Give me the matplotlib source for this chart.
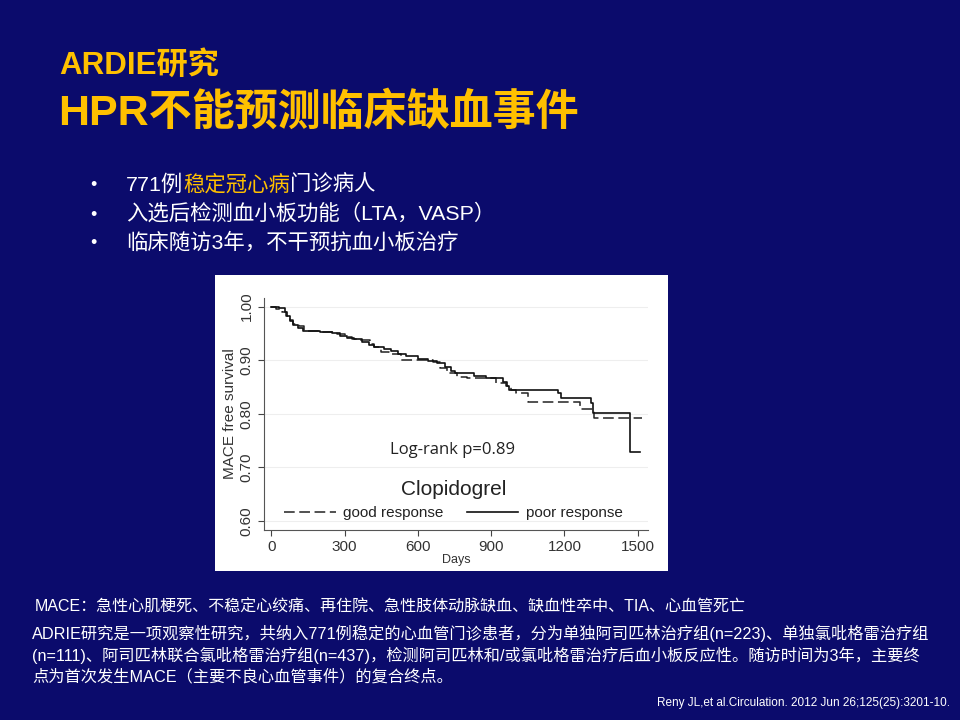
import matplotlib
matplotlib.use("Agg")
import matplotlib.pyplot as plt
from matplotlib.patches import Rectangle

plt.rcParams['font.family'] = ['Liberation Sans', 'Noto Sans CJK SC', 'DejaVu Sans']

BG = '#0b0b6c'
GOLD = '#ffc000'

# ---- slide text ----
title_small = 'ARDIE研究'
title_big = 'HPR不能预测临床缺血事件'
bullets = [
    [('771例', 'white'), ('稳定冠心病', GOLD), ('门诊病人', 'white')],
    [('入选后检测血小板功能（LTA，VASP）', 'white')],
    [('临床随访3年，不干预抗血小板治疗', 'white')],
]
mace_note = 'MACE：急性心肌梗死、不稳定心绞痛、再住院、急性肢体动脉缺血、缺血性卒中、TIA、心血管死亡'
study_lines = [
    'ADRIE研究是一项观察性研究，共纳入771例稳定的心血管门诊患者，分为单独阿司匹林治疗组(n=223)、单独氯吡格雷治疗组',
    '(n=111)、阿司匹林联合氯吡格雷治疗组(n=437)，检测阿司匹林和/或氯吡格雷治疗后血小板反应性。随访时间为3年，主要终',
    '点为首次发生MACE（主要不良心血管事件）的复合终点。',
]
citation = 'Reny JL,et al.Circulation. 2012 Jun 26;125(25):3201-10.'

# ---- Kaplan-Meier data ----
poor_days = [0, 30, 55, 65, 75, 88, 110, 130, 200, 250, 280, 310, 340, 370, 400, 420,
             460, 490, 520, 550, 600, 640, 680, 710, 735, 750, 830, 880, 950, 965,
             975, 1175, 1185, 1310, 1315, 1468, 1510]
poor_surv = [1.000, 0.997, 0.990, 0.982, 0.973, 0.965, 0.960, 0.955, 0.953, 0.950,
             0.946, 0.942, 0.939, 0.934, 0.929, 0.924, 0.921, 0.917, 0.912, 0.907,
             0.903, 0.899, 0.895, 0.888, 0.880, 0.876, 0.870, 0.866, 0.860, 0.852,
             0.845, 0.838, 0.830, 0.820, 0.801, 0.728, 0.728]

good_days = [0, 20, 45, 60, 75, 90, 115, 135, 200, 270, 300, 330, 360, 405, 420, 450,
             480, 530, 660, 690, 720, 760, 800, 920, 960, 980, 1000, 1050, 1265, 1320, 1517]
good_surv = [1.000, 0.996, 0.990, 0.983, 0.975, 0.968, 0.963, 0.955, 0.953, 0.948,
             0.943, 0.940, 0.937, 0.930, 0.924, 0.916, 0.912, 0.900, 0.896, 0.886,
             0.876, 0.868, 0.866, 0.858, 0.852, 0.845, 0.838, 0.822, 0.808, 0.792, 0.792]

x_ticks = [0, 300, 600, 900, 1200, 1500]
y_ticks = [0.60, 0.70, 0.80, 0.90, 1.00]

W, H = 960, 720
fig = plt.figure(figsize=(9.6, 7.2), dpi=100, facecolor=BG)

def fx(px):
    return px / W

def fy(py):
    return 1 - py / H

# titles
fig.text(fx(59), fy(66), title_small, color=GOLD, fontsize=22.5, fontweight='bold', va='center')
fig.text(fx(58), fy(113), title_big, color=GOLD, fontsize=31, fontweight='bold', va='center')

# bullets with mixed colours
fig.canvas.draw()
rend = fig.canvas.get_renderer()
for i, segs in enumerate(bullets):
    yy = fy(184 + i * 29)
    fig.text(fx(90), fy(186 + i * 29), '•', color='white', fontsize=13, va='center')
    x = fx(126)
    for txt, col in segs:
        t = fig.text(x, yy, txt, color=col, fontsize=15.4, va='center')
        bb = t.get_window_extent(renderer=rend)
        x = bb.x1 / W

# white box for the chart
fig.add_artist(Rectangle((fx(215), fy(571)), fx(668) - fx(215), fy(275) - fy(571),
                         transform=fig.transFigure, facecolor='white', edgecolor='none', zorder=0))

ax = fig.add_axes([fx(264), fy(530), fx(648) - fx(264), fy(298) - fy(530)])
ax.set_facecolor('white')
ax.set_xlim(-30, 1542)
ax.set_ylim(0.583, 1.016)
for y in y_ticks:
    ax.axhline(y, color='#eeeeee', lw=0.8, zorder=0)

ax.step(good_days, good_surv, where='post', color='#222222', lw=1.1,
        linestyle=(0, (7, 3)), label='good response')
ax.step(poor_days, poor_surv, where='post', color='#111111', lw=1.2,
        label='poor response')

ax.set_xticks(x_ticks)
ax.set_yticks(y_ticks)
ax.set_yticklabels([f'{v:.2f}' for v in y_ticks], rotation=90, va='center')
ax.tick_params(colors='#444444', labelsize=11, length=4, width=0.8, labelcolor='#333333')
for s in ['top', 'right']:
    ax.spines[s].set_visible(False)
for s in ['left', 'bottom']:
    ax.spines[s].set_color('#555555')
    ax.spines[s].set_linewidth(0.8)

ax.set_xlabel('Days', fontsize=9, color='#333333', labelpad=0)
ax.set_ylabel('MACE free survival', fontsize=11, color='#333333', labelpad=2)

ax.text(740, 0.7326, 'Log-rank p=0.89', fontsize=12, color='#222222',
        family='Open Sans', ha='center', va='center')

leg = ax.legend(loc='center', bbox_to_anchor=(0.493, 0.13), ncol=2, frameon=False,
                title='Clopidogrel', handlelength=3.4, handletextpad=0.5, columnspacing=1.5,
                prop={'size': 11})
leg.get_title().set_fontsize(15)
leg.get_title().set_color('#222222')
for t in leg.get_texts():
    t.set_color('#222222')

# notes
fig.text(fx(35), fy(607), mace_note, color='white', fontsize=11.55, va='center')
for i, line in enumerate(study_lines):
    fig.text(fx(32), fy(633 + i * 22), line, color='white', fontsize=11.7, va='center')
fig.text(fx(950), fy(703), citation, color='white', fontsize=8.5, ha='right', va='center')

fig.savefig('out.png', dpi=100, facecolor=BG)
